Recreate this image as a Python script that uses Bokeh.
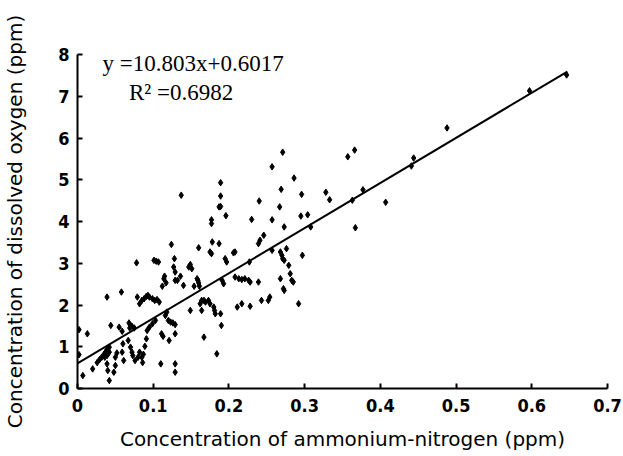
from bokeh.plotting import figure
from bokeh.models import Range1d, Label, FixedTicker
from bokeh.embed import file_html
from bokeh.resources import INLINE

# Scatter data: (ammonium-nitrogen ppm, dissolved oxygen ppm)
nh4_n = [
    0.002, 0.002, 0.013, 0.007, 0.020, 0.026, 0.029, 0.032, 0.035, 0.037, 0.039, 0.042,
    0.036, 0.039, 0.042, 0.039, 0.039, 0.040, 0.042, 0.044, 0.048, 0.050, 0.050, 0.052,
    0.055, 0.059, 0.058, 0.060, 0.061, 0.059, 0.068, 0.070, 0.072, 0.075, 0.069, 0.067,
    0.070, 0.072, 0.073, 0.076, 0.078, 0.079, 0.080, 0.082, 0.085, 0.086, 0.087, 0.089,
    0.082, 0.085, 0.088, 0.091, 0.093, 0.095, 0.099, 0.102, 0.105, 0.108, 0.091, 0.092,
    0.095, 0.099, 0.103, 0.101, 0.104, 0.107, 0.110, 0.111, 0.113, 0.112, 0.114, 0.115,
    0.117, 0.116, 0.118, 0.120, 0.123, 0.126, 0.129, 0.121, 0.124, 0.127, 0.129, 0.129,
    0.128, 0.129, 0.129, 0.129, 0.132, 0.136, 0.140, 0.147, 0.149, 0.151, 0.149, 0.154,
    0.158, 0.159, 0.160, 0.161, 0.160, 0.162, 0.164, 0.164, 0.167, 0.169, 0.173, 0.175,
    0.167, 0.178, 0.175, 0.177, 0.180, 0.181, 0.182, 0.184, 0.187, 0.189, 0.190, 0.195,
    0.197, 0.191, 0.193, 0.206, 0.208, 0.208, 0.213, 0.217, 0.221, 0.226, 0.211, 0.217,
    0.228, 0.228, 0.227, 0.239, 0.241, 0.239, 0.243, 0.246, 0.252, 0.254, 0.257, 0.268,
    0.270, 0.271, 0.273, 0.268, 0.272, 0.273, 0.276, 0.279, 0.281, 0.283, 0.285, 0.292,
    0.297,
    0.137, 0.189, 0.189, 0.187, 0.189, 0.196, 0.177, 0.177, 0.230, 0.240, 0.257, 0.271,
    0.286, 0.269, 0.267, 0.257, 0.296, 0.295, 0.304, 0.328, 0.333, 0.308, 0.273,
    0.357, 0.366, 0.363, 0.377, 0.367, 0.407, 0.441, 0.444, 0.488, 0.597, 0.646,
]
dissolved_o2 = [
    1.41, 0.81, 1.31, 0.31, 0.47, 0.62, 0.69, 0.75, 0.82, 0.87, 0.93, 0.99,
    0.75, 0.79, 0.87, 2.19, 0.59, 0.43, 0.19, 1.51, 0.39, 0.55, 0.75, 0.85,
    1.47, 1.37, 2.31, 1.07, 0.67, 0.87, 1.57, 1.51, 1.49, 1.45, 1.45, 1.15,
    0.99, 0.87, 0.79, 0.67, 3.01, 2.19, 0.75, 0.87, 0.75, 0.62, 0.82, 1.01,
    2.03, 2.11, 2.15, 2.21, 2.23, 2.19, 2.15, 2.11, 2.13, 2.07, 1.19, 1.39,
    1.47, 1.55, 1.63, 3.07, 3.05, 3.03, 0.59, 1.31, 1.25, 2.45, 2.63, 2.69,
    2.53, 1.75, 1.83, 1.63, 1.59, 1.57, 1.53, 1.15, 3.45, 2.91, 2.79, 2.59,
    3.11, 0.59, 0.39, 1.31, 2.59, 2.69, 2.47, 2.91, 2.97, 2.87, 1.87, 2.45,
    2.63, 2.59, 2.53, 2.45, 3.37, 2.03, 1.87, 2.11, 2.11, 2.07, 2.11, 2.03,
    1.23, 3.51, 3.27, 3.23, 1.95, 1.87, 1.79, 0.83, 3.47, 1.79, 1.51, 3.11,
    3.03, 2.59, 2.51, 3.25, 3.27, 2.67, 2.63, 2.61, 2.63, 2.59, 1.95, 2.03,
    1.97, 2.55, 3.03, 2.55, 3.55, 3.47, 2.11, 3.67, 2.11, 2.19, 3.31, 3.27,
    3.19, 3.11, 3.07, 2.63, 2.39, 2.35, 3.35, 2.95, 2.75, 2.59, 2.55, 2.03,
    3.19,
    4.63, 4.93, 4.61, 4.35, 4.36, 4.14, 4.04, 3.95, 4.05, 4.49, 5.31, 5.66,
    5.04, 4.77, 4.35, 4.04, 4.65, 4.13, 4.16, 4.70, 4.52, 3.87, 3.87,
    5.55, 5.71, 4.51, 4.76, 3.85, 4.46, 5.33, 5.52, 6.24, 7.13, 7.51,
]

slope = 10.803
intercept = 0.6017
r_squared = 0.6982
fit_x = [0.0, 0.647]
fit_y = [slope * v + intercept for v in fit_x]

x_ticks = [0, 0.1, 0.2, 0.3, 0.4, 0.5, 0.6, 0.7]
y_ticks = [0, 1, 2, 3, 4, 5, 6, 7, 8]

p = figure(width=623, height=456, output_backend="svg", toolbar_location=None,
           x_range=Range1d(0, 0.7), y_range=Range1d(0, 8),
           min_border_left=76, min_border_right=16, min_border_top=54, min_border_bottom=68)
p.outline_line_color = None
p.xgrid.visible = False
p.ygrid.visible = False
p.background_fill_color = "white"

p.scatter(nh4_n, dissolved_o2, marker="diamond", size=6.5, color="black")
p.line(fit_x, fit_y, line_color="black", line_width=2)

tick_font = "'Liberation Sans Narrow', 'DejaVu Sans Condensed', 'Liberation Sans', sans-serif"
for ax in (p.xaxis[0], p.yaxis[0]):
    ax.axis_line_width = 2
    ax.axis_line_color = "black"
    ax.major_tick_in = 5
    ax.major_tick_out = 0
    ax.major_tick_line_width = 2
    ax.minor_tick_line_color = None
    ax.major_label_text_font = tick_font
    ax.major_label_text_font_size = "18px"
    ax.major_label_text_font_style = "bold"
    ax.major_label_text_color = "black"
    ax.axis_label_text_font = "DejaVu Sans"
    ax.axis_label_text_font_size = "20px"
    ax.axis_label_text_font_style = "normal"
    ax.axis_label_text_color = "black"

p.xaxis.ticker = FixedTicker(ticks=x_ticks)
p.yaxis.ticker = FixedTicker(ticks=y_ticks)
p.xaxis.major_label_overrides = {t: ("0" if t == 0 else f"{t:.1f}") for t in x_ticks}
p.xaxis.major_label_standoff = 10
p.yaxis.major_label_standoff = 8
p.xaxis.axis_label = "Concentration of ammonium-nitrogen (ppm)"
p.yaxis.axis_label = "Concentration of dissolved oxygen (ppm)"
p.xaxis.axis_label_standoff = 12
p.yaxis.axis_label_standoff = 28

p.add_layout(Label(x=0.033, y=7.79, text=f"y ={slope}x+{intercept}",
                   text_font="Liberation Serif", text_font_size="23px",
                   text_baseline="middle", text_color="black"))
p.add_layout(Label(x=0.068, y=7.1, text=f"R\u00b2 ={r_squared}",
                   text_font="Liberation Serif", text_font_size="23px",
                   text_baseline="middle", text_color="black"))

open("out.html", "w").write(file_html(p, INLINE))
